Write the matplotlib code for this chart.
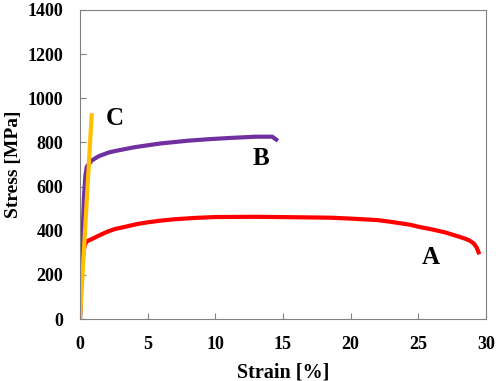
import matplotlib
matplotlib.use("Agg")
import matplotlib.pyplot as plt

# Curve A (red)
strain_a = [0, 0.1, 0.2, 0.35, 0.5, 0.8, 1.2, 1.6, 2, 2.6, 3.5, 4.2, 5, 6, 7, 8.5, 10, 13, 16, 18.5, 20, 22,
            23, 24.4, 25, 26, 27, 28, 28.5, 28.8, 29.1, 29.3, 29.45]
stress_a = [0, 180, 280, 335, 352, 360, 372, 384, 395, 408, 420, 430, 438, 446, 452, 458, 462, 463, 461, 459, 455, 448,
            440, 427, 418, 406, 392, 373, 363, 355, 342, 325, 302]
# Curve B (purple)
strain_b = [0, 0.1, 0.2, 0.3, 0.4, 0.5, 0.86, 1.4, 2.2, 3, 4, 5.9, 8, 9.6, 11, 13, 14.2, 14.5]
stress_b = [0, 180, 400, 560, 650, 690, 718, 738, 756, 766, 778, 795, 808, 815, 820, 826, 826, 813]
# Curve C (orange)
strain_c = [0, 0.86]
stress_c = [0, 923]

labels = ["A", "B", "C"]
label_x = [25.9, 13.4, 2.6]
label_y = [279, 726, 909]

fig = plt.figure(figsize=(4.98, 3.81), dpi=100)
ax = fig.add_axes([80/498, 1-319/381, 406/498, 309/381])
ax.plot(strain_a, stress_a, color="#ff0000", lw=3)
ax.plot(strain_b, stress_b, color="#7030a0", lw=3)
ax.plot(strain_c, stress_c, color="#ffc000", lw=3)

font = {"family": "Liberation Serif", "weight": "bold"}
for lab, x, y in zip(labels, label_x, label_y):
    ax.text(x, y, lab, fontsize=18, ha="center", va="center", **font)

ax.set_xlim(0, 30)
ax.set_ylim(0, 1400)
ax.set_xticks([0, 5, 10, 15, 20, 25, 30])
ax.set_yticks(range(0, 1401, 200))
ax.tick_params(direction="in", length=4, color="#808080", labelsize=13, pad=12)
for lbl in ax.get_xticklabels() + ax.get_yticklabels():
    lbl.set_fontfamily("Liberation Serif")
    lbl.set_fontweight("bold")
for s in ax.spines.values():
    s.set_color("#808080")
ax.tick_params(top=False, right=False)
ax.set_xlabel("Strain [%]", fontsize=14.5, labelpad=7, **font)
ax.set_ylabel("Stress [MPa]", fontsize=14, labelpad=4, **font)
fig.savefig("out.png", dpi=100)
